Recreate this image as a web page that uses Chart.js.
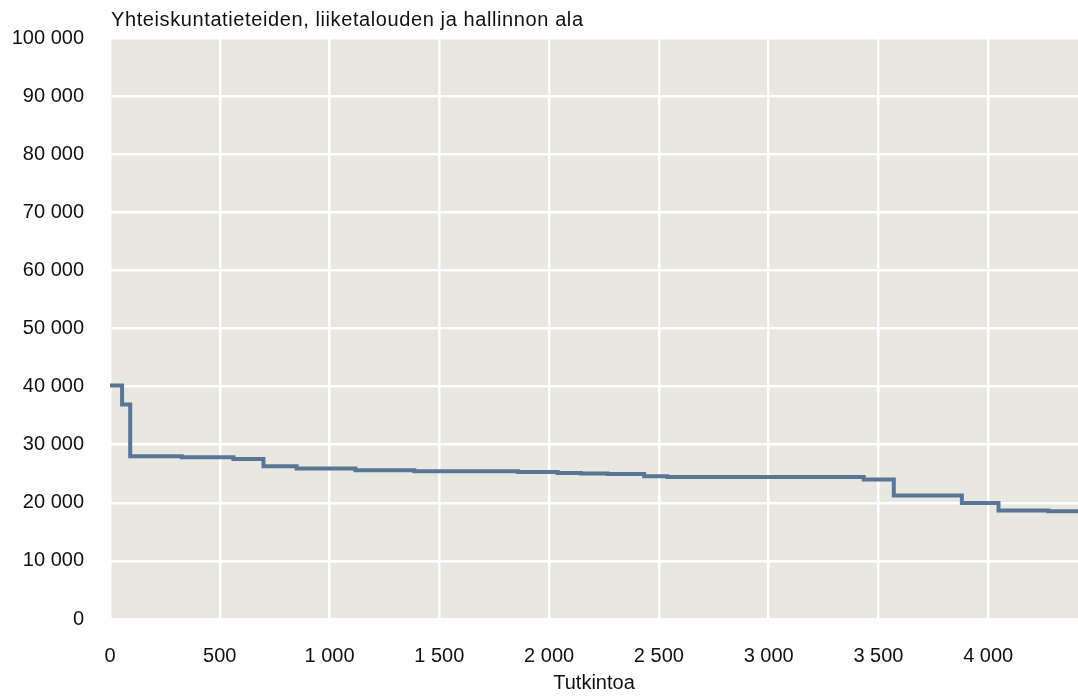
<!DOCTYPE html>
<html>
<head>
<meta charset="utf-8">
<script src="https://cdn.jsdelivr.net/npm/chart.js@4"></script>
<style>
  body { margin: 0; background: #fff; }
  #wrap { width: 1078px; height: 698px; }
</style>
</head>
<body>
<div id="wrap"><canvas id="chart"></canvas></div>
<script>
// step start positions (Tutkintoa) and level (euros)
const stepX = [0, 55, 92, 327, 562, 699, 850, 1118, 1386, 1858, 2039, 2145, 2267, 2433, 2539, 3433, 3570, 3880, 4047, 4274, 4409];
const stepY = [40200, 36900, 28000, 27850, 27540, 26300, 25900, 25600, 25430, 25310, 25140, 25040, 24970, 24570, 24450, 24000, 21250, 19980, 18670, 18560, 18560];
const xTicks = [0, 500, 1000, 1500, 2000, 2500, 3000, 3500, 4000];
const yTicks = [0, 10000, 20000, 30000, 40000, 50000, 60000, 70000, 80000, 90000, 100000];
const titleText = 'Yhteiskuntatieteiden, liiketalouden ja hallinnon ala';
const xTitle = 'Tutkintoa';

const fmt = v => String(v).replace(/\B(?=(\d{3})+(?!\d))/g, ' ');
const FONT = '"Liberation Sans", Arial, sans-serif';
const TEXT = '#111111';

const bgPlugin = {
  id: 'bg',
  beforeDraw(chart) {
    const { ctx, chartArea: a } = chart;
    ctx.save();
    ctx.fillStyle = '#e8e7e0';
    ctx.fillRect(a.left, a.top, a.right - a.left, a.bottom - a.top);
    ctx.restore();
  },
  afterDraw(chart) {
    const { ctx, chartArea: a } = chart;
    ctx.save();
    ctx.font = '20px ' + FONT;
    ctx.letterSpacing = '0.6px';
    ctx.fillStyle = TEXT;
    ctx.textBaseline = 'alphabetic';
    ctx.fillText(titleText, a.left + 1, 26);
    ctx.restore();
  }
};

new Chart(document.getElementById('chart'), {
  type: 'line',
  data: {
    datasets: [{
      data: stepX.map((x, i) => ({ x: x, y: stepY[i] })),
      stepped: 'before',
      borderColor: '#587798',
      borderWidth: 4,
      pointRadius: 0,
      fill: false
    }]
  },
  options: {
    responsive: true,
    maintainAspectRatio: false,
    animation: false,
    layout: { padding: { top: 34, right: 0, left: 0, bottom: 0 } },
    plugins: { legend: { display: false }, tooltip: { enabled: false } },
    scales: {
      x: {
        type: 'linear',
        min: 0,
        max: 4409,
        border: { display: false },
        grid: { color: '#ffffff', lineWidth: 2.5, drawTicks: false },
        afterBuildTicks(s) { s.ticks = xTicks.map(v => ({ value: v })); },
        ticks: {
          autoSkip: false,
          maxRotation: 0,
          minRotation: 0,
          padding: 25,
          color: TEXT,
          font: { size: 20, family: FONT },
          callback: v => fmt(v)
        },
        title: {
          display: true,
          text: xTitle,
          color: TEXT,
          padding: { top: 0, bottom: 3 },
          font: { size: 20, family: FONT }
        },
        afterFit(s) { s.height = 79; }
      },
      y: {
        min: 0,
        max: 100000,
        border: { display: false },
        grid: { color: '#ffffff', lineWidth: 2.5, drawTicks: false },
        afterBuildTicks(s) { s.ticks = yTicks.map(v => ({ value: v })); },
        ticks: {
          autoSkip: false,
          padding: 26,
          color: TEXT,
          font: { size: 20, family: FONT },
          callback: v => fmt(v)
        },
        afterFit(s) { s.width = 110; }
      }
    }
  },
  plugins: [bgPlugin]
});
</script>
</body>
</html>
